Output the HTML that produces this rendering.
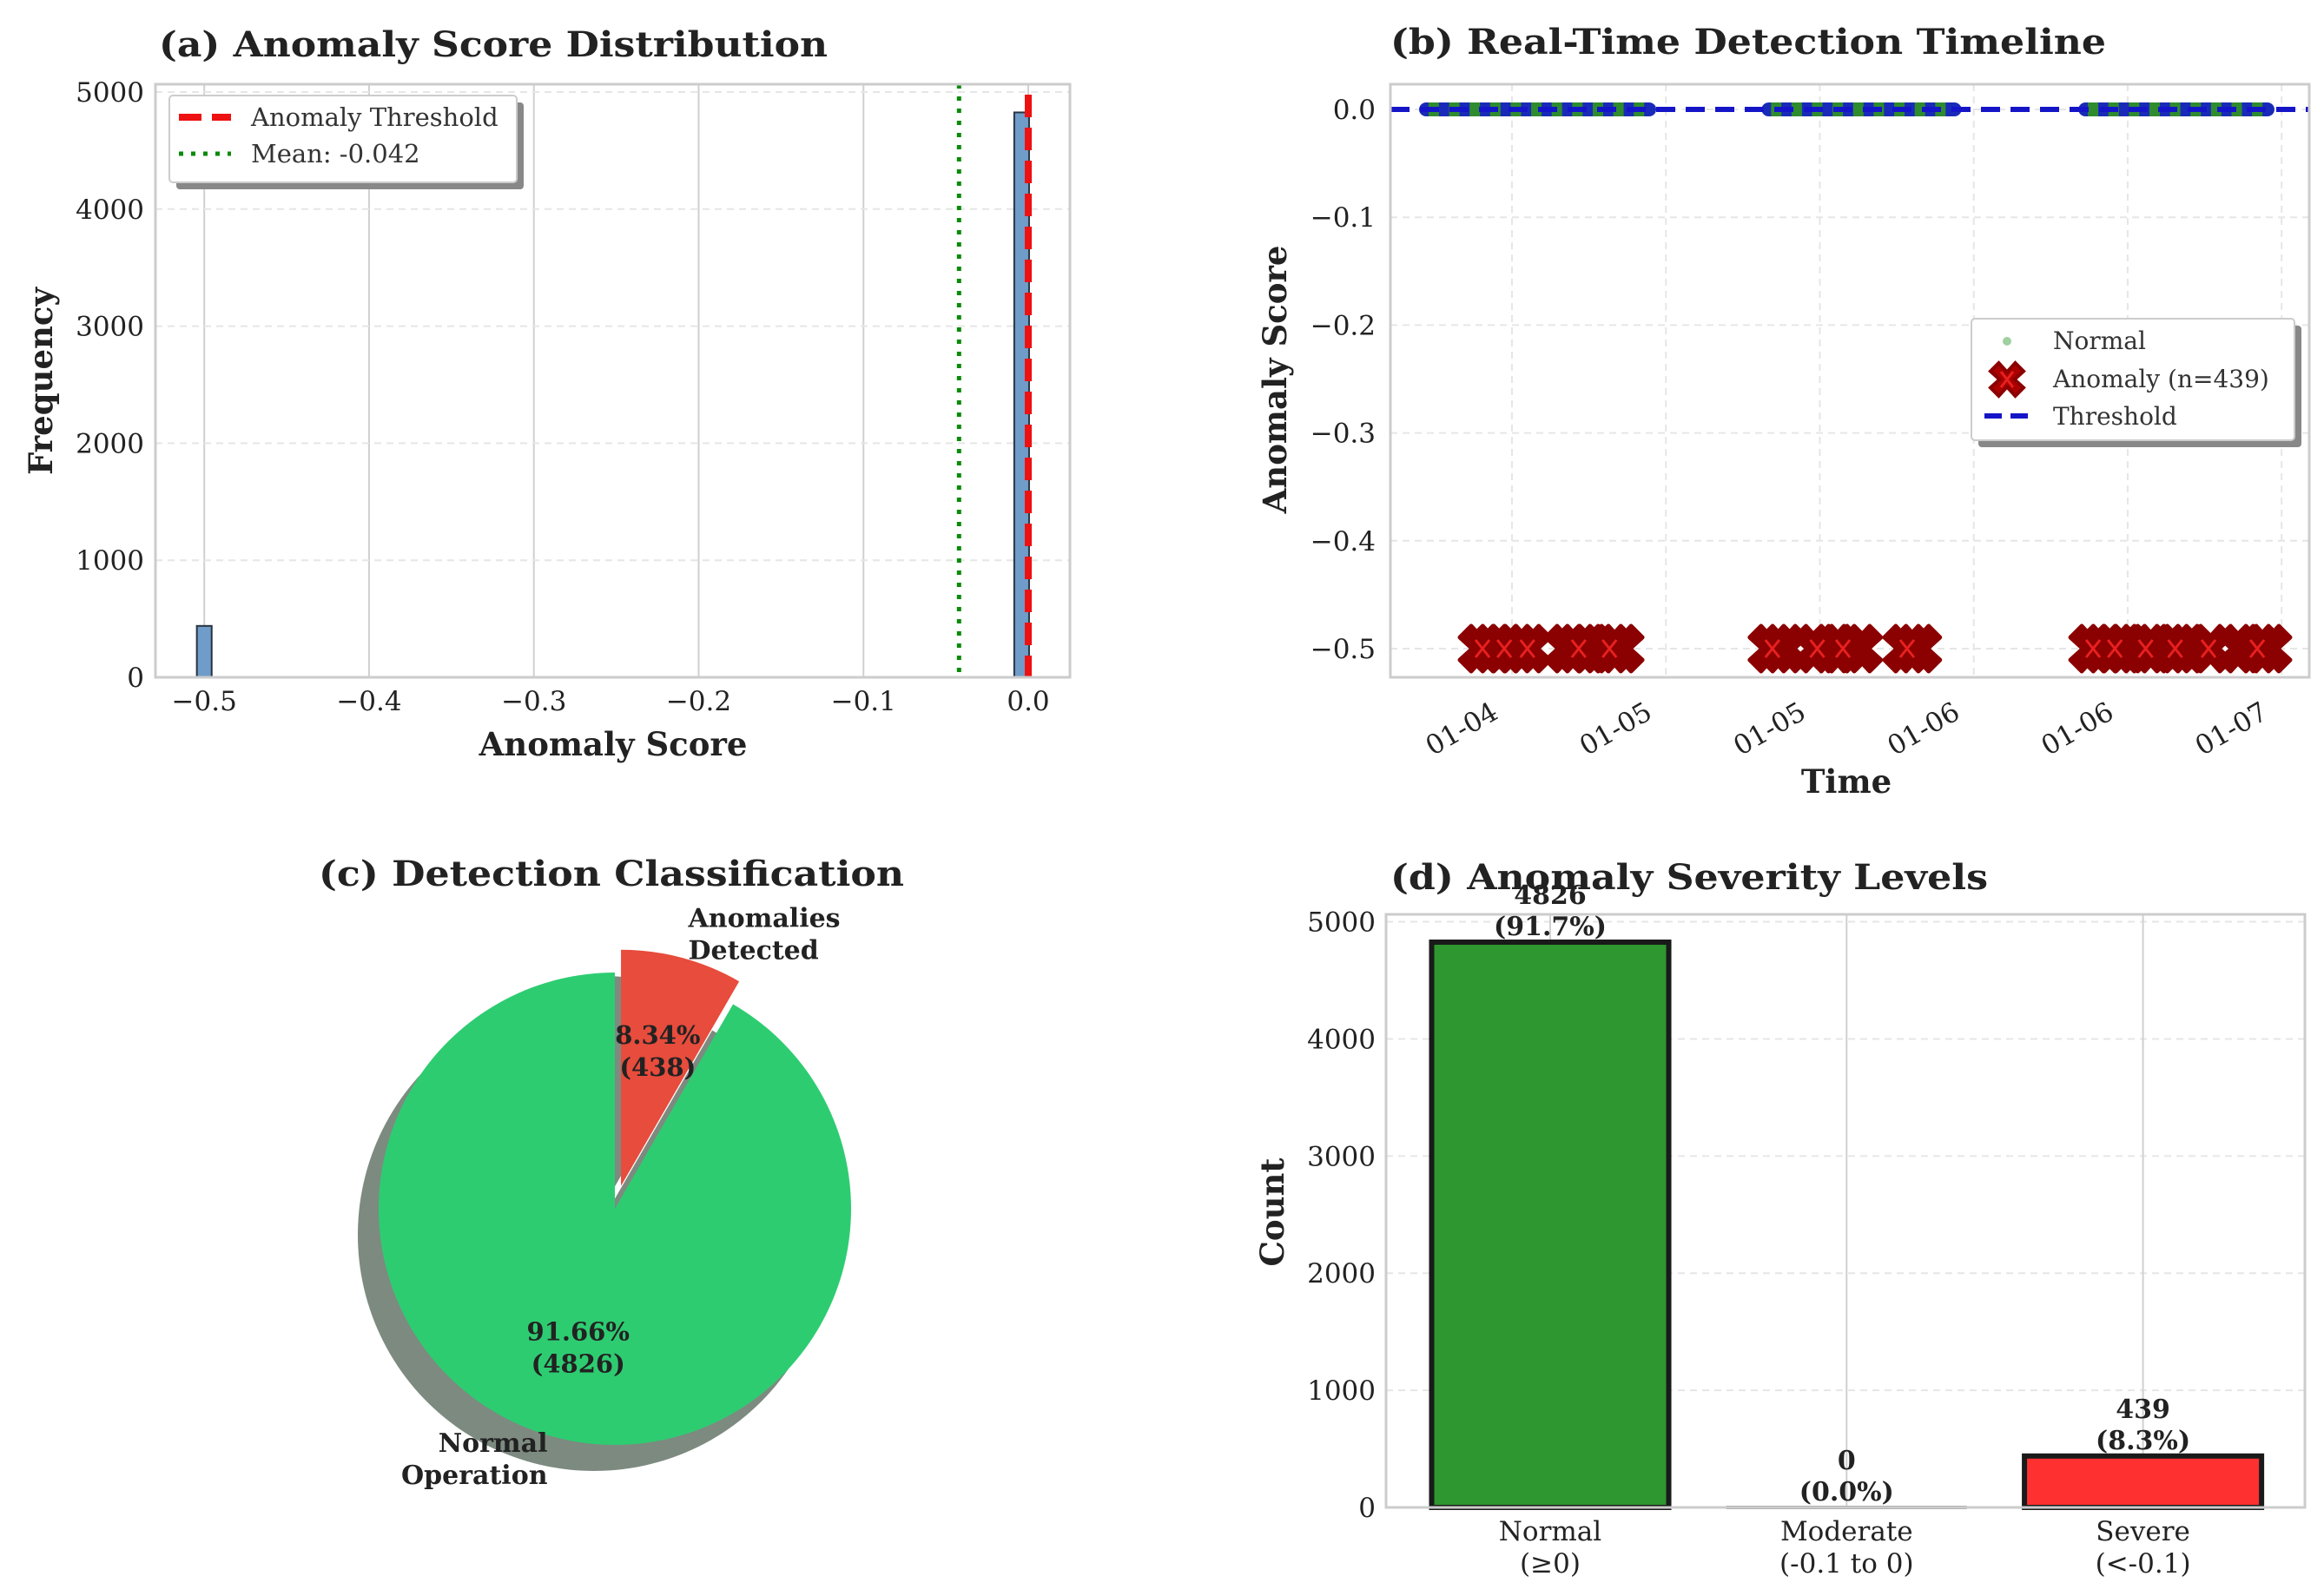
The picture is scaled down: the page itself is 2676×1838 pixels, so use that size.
<!DOCTYPE html>
<html><head><meta charset="utf-8"><style>
html,body{margin:0;padding:0;background:#fff}
svg{display:block;font-family:"DejaVu Serif","Liberation Serif",serif}
</style></head><body>
<svg id="fig" width="2676" height="1838" viewBox="0 0 2676 1838" xmlns="http://www.w3.org/2000/svg">
<rect x="0" y="0" width="2676" height="1838" fill="#fff"/>
<g id="pa"></g>
<g id="pb"></g>
<g id="pc"></g>
<g id="pd"></g>
</svg>
<script>
// ---- Panel (a) data ----
const histBinStart = [-0.5045, -0.0085];
const histBinWidth = 0.009;
const histCounts = [439, 4826];
const aXTicks = [-0.5, -0.4, -0.3, -0.2, -0.1, 0.0];
const aXTickLabels = ["\u22120.5", "\u22120.4", "\u22120.3", "\u22120.2", "\u22120.1", "0.0"];
const aYTicks = [0, 1000, 2000, 3000, 4000, 5000];
const thresholdValue = 0.0;
const meanValue = -0.042;

// ---- Panel (b) data (hours from 01-04 00:00) ----
const bXTicks = [0, 12, 24, 36, 48, 60];
const bXTickLabels = ["01-04", "01-05", "01-05", "01-06", "01-06", "01-07"];
const bYTicks = [0, -0.1, -0.2, -0.3, -0.4, -0.5];
const bYTickLabels = ["0.0", "\u22120.1", "\u22120.2", "\u22120.3", "\u22120.4", "\u22120.5"];
const normalSegStart = [-6.7, 20.0, 44.7];
const normalSegEnd = [10.7, 34.5, 58.9];
const anomalyTimes = [-2.3,-1.4,-0.6,0.3,1.2,4.4,5.2,6.1,7.6,8.4,20.3,21.2,23.8,25.0,25.8,27.0,30.8,31.6,45.3,46.2,47.0,47.9,49.4,50.2,51.7,52.8,54.3,56.9,58.1,58.9];
const anomalyScore = -0.5;

// ---- Panel (c) data ----
const pieLabels = ["Normal\nOperation", "Anomalies\nDetected"];
const pieValues = [4826, 439];
const pieCountLabels = ["4826", "438"];
const pieColors = ["#2ecc71", "#e74c3c"];

// ---- Panel (d) data ----
const sevCategories = ["Normal\n(\u22650)", "Moderate\n(-0.1 to 0)", "Severe\n(<-0.1)"];
const sevCounts = [4826, 0, 439];
const sevPercents = ["91.7%", "0.0%", "8.3%"];
const sevColors = ["#2f972f", "#9a9a9a", "#ff3030"];
const dYTicks = [0, 1000, 2000, 3000, 4000, 5000];

const NS = "http://www.w3.org/2000/svg";
function el(parent, tag, attrs, text) {
  const e = document.createElementNS(NS, tag);
  for (const k in attrs) e.setAttribute(k, attrs[k]);
  if (text !== undefined) e.textContent = text;
  parent.appendChild(e);
  return e;
}
const TICK = 31, LAB = 37, TITLE = 40;

// ================= Panel A =================
(function(){
  const g = document.getElementById('pa');
  const L=179,R=1232,T=97,B=780;
  const x = v => 1184 + v*1897.6;
  const y = c => 780 - c*0.1348;
  el(g,'rect',{x:L,y:T,width:R-L,height:B-T,fill:'#fff'});
  aXTicks.forEach(v=>{ const gl=el(g,'line',{x1:x(v),x2:x(v),y1:T,y2:B,stroke:'#d0d0d0','stroke-width':2});
      });
  aYTicks.forEach(v=>{ const gl=el(g,'line',{x1:L,x2:R,y1:y(v),y2:y(v),stroke:'#e6e6e6','stroke-width':2,'stroke-dasharray':'8,6'});
      });
  histCounts.forEach((c,i)=>{
    const r=el(g,'rect',{x:x(histBinStart[i]),y:y(c),width:x(histBinStart[i]+histBinWidth)-x(histBinStart[i]),height:y(0)-y(c),fill:'#6f9cc8',stroke:'#2a3440','stroke-width':2});
     
  });
  const ml=el(g,'line',{x1:x(meanValue),x2:x(meanValue),y1:T,y2:B,stroke:'#0a8a0a','stroke-width':5,'stroke-dasharray':'5,9'});
   
  const tl=el(g,'line',{x1:x(thresholdValue),x2:x(thresholdValue),y1:y(5000)+3,y2:B,stroke:'#ee1111','stroke-width':8,'stroke-dasharray':'26,12'});
   
  el(g,'rect',{x:L,y:T,width:R-L,height:B-T,fill:'none',stroke:'#cccccc','stroke-width':3});
  aXTicks.forEach((v,i)=>{ const t=el(g,'text',{x:x(v),y:818,'font-size':TICK,'text-anchor':'middle',fill:'#222'},aXTickLabels[i]);
      });
  aYTicks.forEach(v=>{ const t=el(g,'text',{x:166,y:y(v)+11,'font-size':TICK,'text-anchor':'end',fill:'#222'},String(v));
      });
  let t=el(g,'text',{x:706,y:870,'font-size':LAB,'font-weight':'bold','text-anchor':'middle',fill:'#222'},'Anomaly Score');
   
  t=el(g,'text',{x:0,y:0,'font-size':LAB,'font-weight':'bold','text-anchor':'middle',fill:'#222',transform:'translate(60,439) rotate(-90)'},'Frequency');
   
  t=el(g,'text',{x:183,y:65,'font-size':TITLE,'font-weight':'bold',fill:'#222',textLength:770,lengthAdjust:'spacingAndGlyphs'},'(a) Anomaly Score Distribution');
   
  const lg=el(g,'g',{});
   
  el(lg,'rect',{x:203,y:118,width:400,height:100,fill:'#888',rx:4});
  el(lg,'rect',{x:195,y:110,width:400,height:100,fill:'#fff',stroke:'#ccc','stroke-width':2,rx:4});
  el(lg,'line',{x1:206,x2:266,y1:135,y2:135,stroke:'#ee1111','stroke-width':8,'stroke-dasharray':'26,12'});
  el(lg,'text',{x:289,y:145,'font-size':29,fill:'#333'},'Anomaly Threshold');
  el(lg,'line',{x1:206,x2:266,y1:177,y2:177,stroke:'#0a8a0a','stroke-width':5,'stroke-dasharray':'5,9'});
  el(lg,'text',{x:289,y:187,'font-size':29,fill:'#333'},'Mean: -0.042');
})();

// ================= Panel B =================
(function(){
  const g = document.getElementById('pb');
  const L=1601,R=2659,T=97,B=780;
  const x = h => 1741 + h*14.77;
  const y = v => 126 - v*1242;
  el(g,'rect',{x:L,y:T,width:R-L,height:B-T,fill:'#fff'});
  bXTicks.forEach(v=>{ const gl=el(g,'line',{x1:x(v),x2:x(v),y1:T,y2:B,stroke:'#e6e6e6','stroke-width':2,'stroke-dasharray':'8,6'});
      });
  bYTicks.forEach(v=>{ const gl=el(g,'line',{x1:L,x2:R,y1:y(v),y2:y(v),stroke:'#e6e6e6','stroke-width':2,'stroke-dasharray':'8,6'});
      });
  normalSegStart.forEach((s,i)=>{
    const e=normalSegEnd[i];
    const seg=el(g,'line',{x1:x(s),x2:x(e),y1:y(0),y2:y(0),stroke:'#1a2ab8','stroke-width':16,'stroke-linecap':'round'});
     
    for(let h=s+0.6;h<e;h+=1.6){ const d=el(g,'rect',{x:x(h)-6,y:y(0)-8,width:12,height:16,fill:'#2e8b2e'});
        }
  });
  const th=el(g,'line',{x1:L,x2:R,y1:y(0),y2:y(0),stroke:'#1515c8','stroke-width':6,'stroke-dasharray':'22,12'});
   
  const s=26;
  function xMarker(cx,cy,sz){
    const a=sz*0.5, b=sz;
    const p=[[-b,-b+a],[-b+a,-b],[0,-a*0.9],[b-a,-b],[b,-b+a],[a*0.9,0],[b,b-a],[b-a,b],[0,a*0.9],[-b+a,b],[-b,b-a],[-a*0.9,0]];
    return p.map(q=>(cx+q[0])+','+(cy+q[1])).join(' ');
  }
  anomalyTimes.forEach(h=>{
    const m=el(g,'polygon',{points:xMarker(x(h),y(anomalyScore),s),fill:'#8b0000',stroke:'#8b0000','stroke-width':5,'stroke-linejoin':'round'});
     
  });
  anomalyTimes.forEach((h,i)=>{
    if(i%2) return;
    const cx=x(h),cy=y(anomalyScore);
    const m=el(g,'path',{d:`M${cx-8},${cy-10}L${cx+8},${cy+10}M${cx+8},${cy-10}L${cx-8},${cy+10}`,stroke:'#e82020','stroke-width':3,fill:'none'});
     
  });
  el(g,'rect',{x:L,y:T,width:R-L,height:B-T,fill:'none',stroke:'#cccccc','stroke-width':3});
  bXTicks.forEach((v,i)=>{ const t=el(g,'text',{x:0,y:0,'font-size':TICK,'text-anchor':'end',fill:'#222',transform:`translate(${x(v)-14},${826}) rotate(-30)`},bXTickLabels[i]);
      });
  bYTicks.forEach((v,i)=>{ const t=el(g,'text',{x:1584,y:y(v)+11,'font-size':TICK,'text-anchor':'end',fill:'#222'},bYTickLabels[i]);
      });
  let t=el(g,'text',{x:2126,y:913,'font-size':LAB,'font-weight':'bold','text-anchor':'middle',fill:'#222'},'Time');
   
  t=el(g,'text',{x:0,y:0,'font-size':LAB,'font-weight':'bold','text-anchor':'middle',fill:'#222',transform:'translate(1481,437) rotate(-90)'},'Anomaly Score');
   
  t=el(g,'text',{x:1601,y:62,'font-size':TITLE,'font-weight':'bold',fill:'#222',textLength:824,lengthAdjust:'spacingAndGlyphs'},'(b) Real-Time Detection Timeline');
   
  const lg=el(g,'g',{});
   
  el(lg,'rect',{x:2278,y:375,width:372,height:140,fill:'#888',rx:4});
  el(lg,'rect',{x:2270,y:367,width:372,height:140,fill:'#fff',stroke:'#ccc','stroke-width':2,rx:4});
  el(lg,'circle',{cx:2311,cy:393,r:5,fill:'#9fd09f'});
  el(lg,'text',{x:2364,y:402,'font-size':28,fill:'#333'},'Normal');
  el(lg,'polygon',{points:xMarker(2311,437,19),fill:'#aa0000',stroke:'#8b0000','stroke-width':4});
  el(lg,'path',{d:'M2304,428L2318,446M2318,428L2304,446',stroke:'#e82020','stroke-width':3});
  el(lg,'text',{x:2364,y:446,'font-size':28,fill:'#333'},'Anomaly (n=439)');
  el(lg,'line',{x1:2285,x2:2340,y1:479,y2:479,stroke:'#1515c8','stroke-width':6,'stroke-dasharray':'20,10'});
  el(lg,'text',{x:2364,y:489,'font-size':28,fill:'#333'},'Threshold');
})();

// ================= Panel C =================
(function(){
  const g = document.getElementById('pc');
  const cx=708, cy=1392, r=272;
  const total = pieValues.reduce((a,b)=>a+b,0);
  const explode=[0,0.1];
  let ang=90;
  const wedges=[];
  pieValues.forEach((v,i)=>{ const sweep=v/total*360; wedges.push([ang,ang+sweep]); ang+=sweep; });
  function wedgePath(ox,oy,a0,a1){
    const p=d=>[ox+r*Math.cos(d*Math.PI/180), oy-r*Math.sin(d*Math.PI/180)];
    const s=p(a0), e=p(a1); const large=(a1-a0)>180?1:0;
    return `M${ox},${oy}L${s[0]},${s[1]}A${r},${r} 0 ${large} 0 ${e[0]},${e[1]}Z`;
  }
  wedges.forEach((w,i)=>{
    const mid=(w[0]+w[1])/2*Math.PI/180, off=explode[i]*r;
    const ox=cx+off*Math.cos(mid)-24, oy=cy-off*Math.sin(mid)+30;
    const sh=el(g,'path',{d:wedgePath(ox,oy,w[0],w[1]),fill:'#7d8a80'});
     
  });
  wedges.forEach((w,i)=>{
    const mid=(w[0]+w[1])/2*Math.PI/180, off=explode[i]*r;
    const ox=cx+off*Math.cos(mid), oy=cy-off*Math.sin(mid);
    const p=el(g,'path',{d:wedgePath(ox,oy,w[0],w[1]),fill:pieColors[i]});
     
    const tx=ox+0.6*r*Math.cos(mid), ty=oy-0.6*r*Math.sin(mid);
    const pct=(pieValues[i]/total*100).toFixed(2)+'%';
    let t=el(g,'text',{x:tx,y:ty-6,'font-size':29,'font-weight':'bold','text-anchor':'middle',fill:'#222'},pct);
     
    t=el(g,'text',{x:tx,y:ty+31,'font-size':29,'font-weight':'bold','text-anchor':'middle',fill:'#222'},'('+pieCountLabels[i]+')');
     
    const lx=ox+1.1*r*Math.cos(mid), ly=oy-1.1*r*Math.sin(mid);
    const lines=pieLabels[i].split('\n');
    const anchor=Math.cos(mid)>=0?'start':'end';
    lines.forEach((ln,k)=>{
      const tt=el(g,'text',{x:lx,y:ly+(k-lines.length/2)*37+28,'font-size':30,'font-weight':'bold','text-anchor':anchor,fill:'#222'},ln);
       
    });
  });
  const t=el(g,'text',{x:367,y:1020,'font-size':TITLE,'font-weight':'bold',fill:'#222',textLength:674,lengthAdjust:'spacingAndGlyphs'},'(c) Detection Classification');
   
})();

// ================= Panel D =================
(function(){
  const g = document.getElementById('pd');
  const L=1596,R=2654,T=1053,B=1736;
  const x = i => 1785 + i*341.3;
  const y = c => 1736 - c*0.13489;
  const bw = 0.8*341.3;
  let t=el(g,'text',{x:1601,y:1024,'font-size':TITLE,'font-weight':'bold',fill:'#222',textLength:688,lengthAdjust:'spacingAndGlyphs'},'(d) Anomaly Severity Levels');
   
  el(g,'rect',{x:L,y:T,width:R-L,height:B-T,fill:'#fff'});
  dYTicks.forEach(v=>{ const gl=el(g,'line',{x1:L,x2:R,y1:y(v),y2:y(v),stroke:'#e6e6e6','stroke-width':2,'stroke-dasharray':'8,6'});
      });
  sevCounts.forEach((c,i)=>{ const gl=el(g,'line',{x1:x(i),x2:x(i),y1:T,y2:B,stroke:'#d0d0d0','stroke-width':2});
      });
  sevCounts.forEach((c,i)=>{
    const h=y(0)-y(c);
    const b=el(g,'rect',{x:x(i)-bw/2,y:y(c),width:bw,height:Math.max(h,0.01),fill:sevColors[i],stroke:c>0?'#1a1a1a':'#9a9a9a','stroke-width':c>0?6:4});
     
    let tt=el(g,'text',{x:x(i),y:y(c)-44,'font-size':30,'font-weight':'bold','text-anchor':'middle',fill:'#222'},String(c));
     
    tt=el(g,'text',{x:x(i),y:y(c)-8,'font-size':30,'font-weight':'bold','text-anchor':'middle',fill:'#222'},'('+sevPercents[i]+')');
     
    sevCategories[i].split('\n').forEach((ln,k)=>{
      const tl=el(g,'text',{x:x(i),y:1774+k*37,'font-size':TICK,'text-anchor':'middle',fill:'#222'},ln);
       
    });
  });
  el(g,'rect',{x:L,y:T,width:R-L,height:B-T,fill:'none',stroke:'#cccccc','stroke-width':3});
  dYTicks.forEach(v=>{ const tt=el(g,'text',{x:1584,y:y(v)+11,'font-size':TICK,'text-anchor':'end',fill:'#222'},String(v));
      });
  t=el(g,'text',{x:0,y:0,'font-size':LAB,'font-weight':'bold','text-anchor':'middle',fill:'#222',transform:'translate(1478,1396) rotate(-90)'},'Count');
   
})();
</script>
</body></html>
